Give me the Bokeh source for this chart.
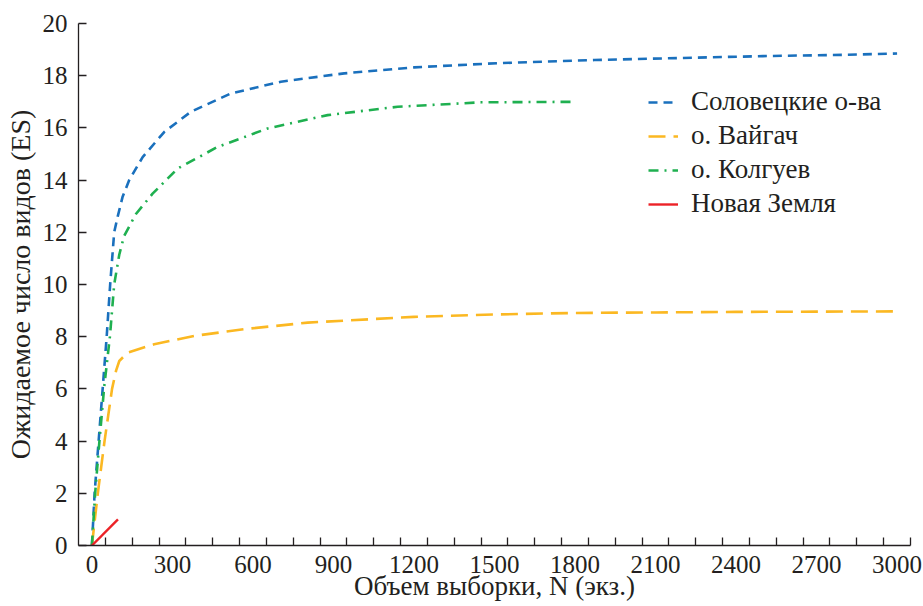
from bokeh.plotting import figure
from bokeh.models import FixedTicker, Range1d, Legend, LegendItem
from bokeh.embed import file_html
from bokeh.resources import INLINE

# Data
solov_n = [0, 10, 25, 40, 55, 68, 83, 96, 114, 139, 189, 270, 369, 518, 704, 940, 1201, 1512, 1872, 2200, 2500, 2800, 3000]
solov_es = [0, 2, 4, 6, 8, 10, 12, 12.6, 13.35, 14.0, 14.88, 15.85, 16.62, 17.32, 17.77, 18.09, 18.32, 18.48, 18.6, 18.68, 18.75, 18.8, 18.85]

vaig_n = [0, 22, 47, 75, 90, 102, 133, 232, 381, 568, 804, 1200, 1500, 1800, 2100, 2400, 2700, 3000]
vaig_es = [0, 2, 4, 6, 6.7, 7.07, 7.39, 7.71, 8.03, 8.29, 8.54, 8.76, 8.85, 8.91, 8.93, 8.95, 8.96, 8.97]

kolg_n = [0, 12, 28, 46, 67, 83, 102, 120, 164, 226, 319, 468, 655, 878, 1139, 1450, 1800]
kolg_es = [0, 2, 4, 6.1, 8, 10, 11.15, 11.86, 12.7, 13.48, 14.44, 15.27, 15.98, 16.49, 16.81, 16.98, 17.0]

nz_n = [0, 97]
nz_es = [0, 1.0]

series_names = ["Соловецкие о-ва", "о. Вайгач", "о. Колгуев", "Новая Земля"]
x_tick_labels = list(range(0, 3001, 300))
y_tick_labels = list(range(0, 21, 2))
x_title = "Объем выборки, N (экз.)"
y_title = "Ожидаемое число видов (ES)"

FONT = "Liberation Serif"
TXT = "#231f20"

p = figure(width=923, height=606, output_backend="svg", toolbar_location=None,
           x_range=Range1d(-50, 3050), y_range=Range1d(0, 20),
           min_border_left=78, min_border_right=13, min_border_top=23, min_border_bottom=61)
p.outline_line_color = None
p.grid.visible = False
p.background_fill_color = "white"
p.border_fill_color = "white"

r1 = p.line(solov_n, solov_es, line_color="#1a70bd", line_width=2.6, line_dash="9 6")
r2 = p.line(vaig_n, vaig_es, line_color="#fbb822", line_width=2.6, line_dash="17 8")
r3 = p.line(kolg_n, kolg_es, line_color="#1fb050", line_width=2.6, line_dash="10 6 2 6")
r4 = p.line(nz_n, nz_es, line_color="#ec2227", line_width=2.4)

# x axis
xa = p.xaxis[0]
xa.ticker = FixedTicker(ticks=x_tick_labels, minor_ticks=list(range(50, 3051, 100)))
xa.major_tick_in = 0
xa.major_tick_out = 0
xa.minor_tick_in = 8
xa.minor_tick_out = 0
xa.major_label_standoff = 10
xa.axis_line_color = TXT
xa.axis_line_width = 1.3
xa.minor_tick_line_color = TXT
xa.minor_tick_line_width = 1.3
xa.major_label_text_font = FONT
xa.major_label_text_font_size = "25px"
xa.major_label_text_color = TXT
xa.axis_label = x_title
xa.axis_label_text_font = FONT
xa.axis_label_text_font_size = "27px"
xa.axis_label_text_font_style = "normal"
xa.axis_label_text_color = TXT
xa.axis_label_standoff = -5

# y axis
ya = p.yaxis[0]
ya.ticker = FixedTicker(ticks=y_tick_labels, minor_ticks=[])
ya.major_tick_in = 8
ya.major_tick_out = 0
ya.minor_tick_in = 0
ya.minor_tick_out = 0
ya.major_label_standoff = 11
ya.axis_line_color = TXT
ya.axis_line_width = 1.3
ya.major_tick_line_color = TXT
ya.major_tick_line_width = 1.3
ya.major_label_text_font = FONT
ya.major_label_text_font_size = "25px"
ya.major_label_text_color = TXT
ya.axis_label = y_title
ya.axis_label_text_font = FONT
ya.axis_label_text_font_size = "28px"
ya.axis_label_text_font_style = "normal"
ya.axis_label_text_color = TXT
ya.axis_label_standoff = 4

legend = Legend(items=[LegendItem(label=series_names[0], renderers=[r1]),
                       LegendItem(label=series_names[1], renderers=[r2]),
                       LegendItem(label=series_names[2], renderers=[r3]),
                       LegendItem(label=series_names[3], renderers=[r4])],
                location=(570, 326))
legend.border_line_color = None
legend.background_fill_alpha = 0
legend.padding = 0
legend.margin = 0
legend.spacing = 3
legend.glyph_width = 30
legend.glyph_height = 20
legend.label_height = 20
legend.label_standoff = 13
legend.label_text_font = FONT
legend.label_text_font_size = "27px"
legend.label_text_color = TXT
p.add_layout(legend)

open("out.html", "w").write(file_html(p, INLINE))
